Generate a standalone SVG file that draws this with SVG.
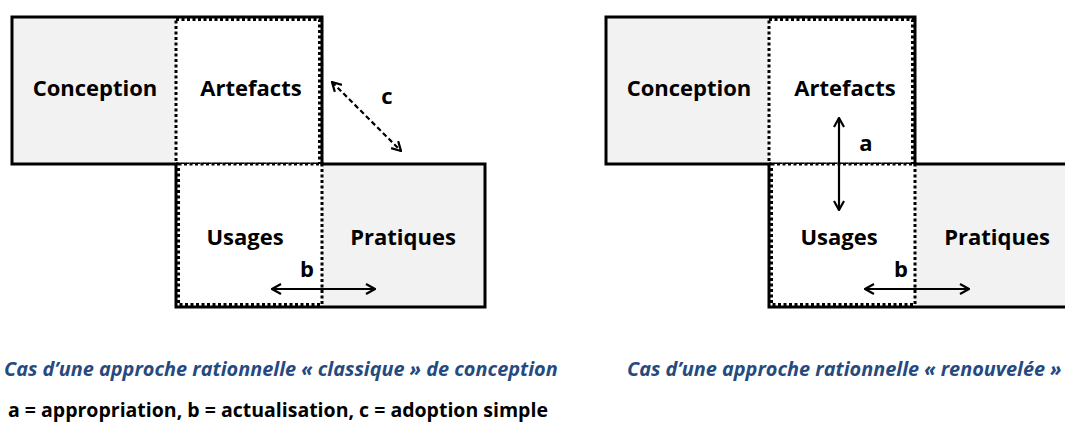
<svg xmlns="http://www.w3.org/2000/svg" width="1065" height="423" viewBox="0 0 1065 423">
<style>
.lbl{font-family:"Open Sans","Liberation Sans",sans-serif;font-weight:bold;font-size:22px;fill:#000;text-anchor:middle}
.cap{font-family:"Open Sans","Liberation Sans",sans-serif;font-weight:bold;font-style:italic;font-size:19.9px;fill:#264a80}
.leg{font-family:"Open Sans","Liberation Sans",sans-serif;font-weight:bold;font-size:19.5px;fill:#000}
.gray{fill:#f2f2f2;stroke:none}
.white{fill:#fff;stroke:none}
.dot{fill:none;stroke:#000;stroke-width:3;stroke-dasharray:3 2.5}
.outline{fill:none;stroke:#000;stroke-width:3;stroke-linejoin:miter}
.arr{fill:none;stroke:#000;stroke-width:2.2;marker-start:url(#ah);marker-end:url(#ah)}
.dash{stroke-dasharray:5 3}
</style>
<defs>
<marker id="ah" viewBox="0 0 12 12" refX="11" refY="6" markerWidth="12" markerHeight="12" markerUnits="userSpaceOnUse" orient="auto-start-reverse">
<path d="M2,1 L11,6 L2,11" fill="none" stroke="#000" stroke-width="2.2" stroke-dasharray="none"/>
</marker>
</defs>

<!-- Left diagram -->
<g id="left-conception">
<rect class="gray" x="12" y="17" width="164" height="147"/>
<text class="lbl" x="95" y="96">Conception</text>
</g>
<g id="left-pratiques">
<rect class="gray" x="322" y="164" width="163" height="143"/>
<text class="lbl" x="403" y="245">Pratiques</text>
</g>
<g id="left-artefacts">
<rect class="white" x="176" y="17" width="146" height="147"/>
<rect class="dot" x="176" y="19.5" width="143.5" height="144.5"/>
<text class="lbl" x="251" y="96">Artefacts</text>
</g>
<g id="left-usages">
<rect class="white" x="176" y="164" width="146" height="143"/>
<rect class="dot" x="178.5" y="164" width="143.5" height="140.5"/>
<text class="lbl" x="245" y="245">Usages</text>
</g>
<path id="left-outline" class="outline" d="M12,17 H322 V164 H485 V307 H176 V164 H12 Z"/>

<!-- Right diagram -->
<g id="right-conception">
<rect class="gray" x="606" y="17" width="163" height="147"/>
<text class="lbl" x="689" y="96">Conception</text>
</g>
<g id="right-pratiques">
<rect class="gray" x="915" y="164" width="165" height="143"/>
<text class="lbl" x="997" y="245">Pratiques</text>
</g>
<g id="right-artefacts">
<rect class="white" x="769" y="17" width="146" height="147"/>
<rect class="dot" x="769" y="19.5" width="143.5" height="144.5"/>
<text class="lbl" x="845" y="96">Artefacts</text>
</g>
<g id="right-usages">
<rect class="white" x="769" y="164" width="146" height="143"/>
<rect class="dot" x="771.5" y="164" width="143.5" height="140.5"/>
<text class="lbl" x="839" y="245">Usages</text>
</g>
<path id="right-outline" class="outline" d="M606,17 H915 V164 H1080 V307 H769 V164 H606 Z"/>

<!-- Connectors -->
<g id="connectors">
<line class="arr dash" x1="332" y1="82" x2="401" y2="151"/>
<line class="arr" x1="272" y1="289" x2="375" y2="289"/>
<line class="arr" x1="839" y1="118" x2="839" y2="210"/>
<line class="arr" x1="865" y1="289" x2="969" y2="289"/>
</g>
<g id="labels">
<text class="lbl" x="387" y="104">c</text>
<text class="lbl" x="307" y="277">b</text>
<text class="lbl" x="866" y="151">a</text>
<text class="lbl" x="901" y="277">b</text>
</g>

<g id="captions">
<text class="cap" x="4" y="376">Cas d’une approche rationnelle « classique » de conception</text>
<text class="cap" x="627" y="376">Cas d’une approche rationnelle « renouvelée »</text>
<text class="leg" x="8" y="417">a = appropriation, b = actualisation, c = adoption simple</text>
</g>
</svg>
